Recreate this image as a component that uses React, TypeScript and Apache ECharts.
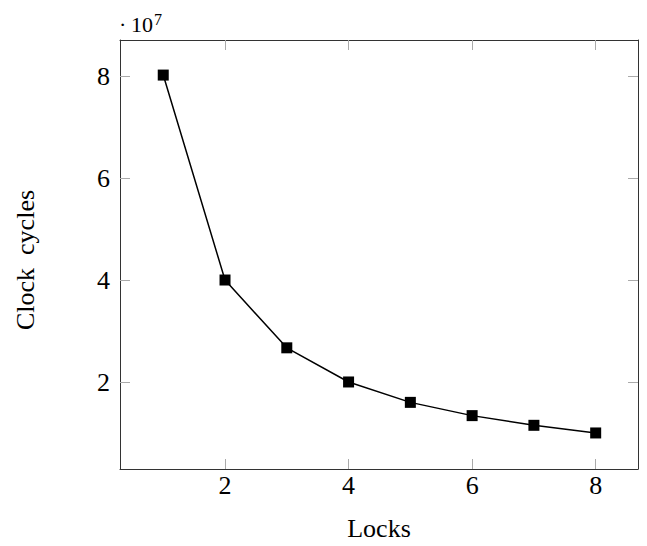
import React, { useEffect, useRef } from "react";
import * as echarts from "echarts";

const locks = [1, 2, 3, 4, 5, 6, 7, 8];
const clockCycles = [80300000, 40100000, 26800000, 20100000, 16100000, 13500000, 11600000, 10100000];
const xTicks = [2, 4, 6, 8];
const yTicks = [20000000, 40000000, 60000000, 80000000];
const SCALE = 1e7;

export default function App() {
  const ref = useRef<HTMLDivElement>(null);
  useEffect(() => {
    if (!ref.current) return;
    const chart = echarts.init(ref.current, null, { renderer: "svg" });
    const font = "Liberation Serif";
    const frame = "#333";
    const tickColor = "#aaa";
    const xMin = 0.3, xMax = 8.685;
    const yMin = 0.303 * SCALE, yMax = 8.718 * SCALE;
    const xAxisBase = {
      type: "value" as const,
      min: xMin,
      max: xMax,
      axisLine: { show: true, onZero: false, lineStyle: { color: frame, width: 1 } },
      splitLine: { show: false },
    };
    const yAxisBase = {
      type: "value" as const,
      min: yMin,
      max: yMax,
      axisLine: { show: true, onZero: false, lineStyle: { color: frame, width: 1 } },
      splitLine: { show: false },
    };
    chart.setOption({
      animation: false,
      backgroundColor: "#fff",
      grid: { left: 120, top: 40, right: 9, bottom: 76, containLabel: false },
      xAxis: [
        {
          ...xAxisBase,
          position: "bottom",
          name: "Locks",
          nameLocation: "middle",
          nameGap: 46,
          nameTextStyle: { fontFamily: font, fontSize: 26, color: "#000" },
          axisTick: { show: true, inside: true, length: 10, customValues: xTicks, lineStyle: { color: tickColor } },
          axisLabel: { show: true, customValues: xTicks, fontFamily: font, fontSize: 26, color: "#000", margin: 3 },
        },
        {
          ...xAxisBase,
          position: "top",
          axisTick: { show: true, inside: true, length: 10, customValues: xTicks, lineStyle: { color: tickColor } },
          axisLabel: { show: false },
        },
      ],
      yAxis: [
        {
          ...yAxisBase,
          position: "left",
          axisTick: { show: true, inside: true, length: 10, customValues: yTicks, lineStyle: { color: tickColor } },
          axisLabel: {
            show: true,
            customValues: yTicks,
            fontFamily: font,
            fontSize: 26,
            color: "#000",
            margin: 10,
            formatter: (v: number) => String(Math.round(v / SCALE)),
          },
        },
        {
          ...yAxisBase,
          position: "right",
          axisTick: { show: true, inside: true, length: 10, customValues: yTicks, lineStyle: { color: tickColor } },
          axisLabel: { show: false },
        },
      ],
      graphic: [
        {
          type: "text",
          x: 25,
          y: 260,
          rotation: Math.PI / 2,
          style: {
            text: "Clock\u00a0\u00a0cycles",
            fontFamily: font,
            fontSize: 26,
            fill: "#000",
            align: "center",
            verticalAlign: "middle",
          },
        },
        {
          type: "text",
          x: 119,
          y: 35,
          style: { text: "·", fontFamily: font, fontSize: 22, fill: "#000", verticalAlign: "bottom" },
        },
        {
          type: "text",
          x: 131,
          y: 35,
          style: { text: "10", fontFamily: font, fontSize: 22, fill: "#000", verticalAlign: "bottom" },
        },
        {
          type: "text",
          x: 154,
          y: 27,
          style: { text: "7", fontFamily: font, fontSize: 16, fill: "#000", verticalAlign: "bottom" },
        },
      ],
      series: [
        {
          type: "line",
          data: locks.map((x, i) => [x, clockCycles[i]]),
          symbol: "rect",
          symbolSize: 11,
          itemStyle: { color: "#000" },
          lineStyle: { color: "#000", width: 1.5 },
        },
      ],
    });
    return () => chart.dispose();
  }, []);
  return <div ref={ref} style={{ width: 647, height: 546, margin: -8 }} />;
}
